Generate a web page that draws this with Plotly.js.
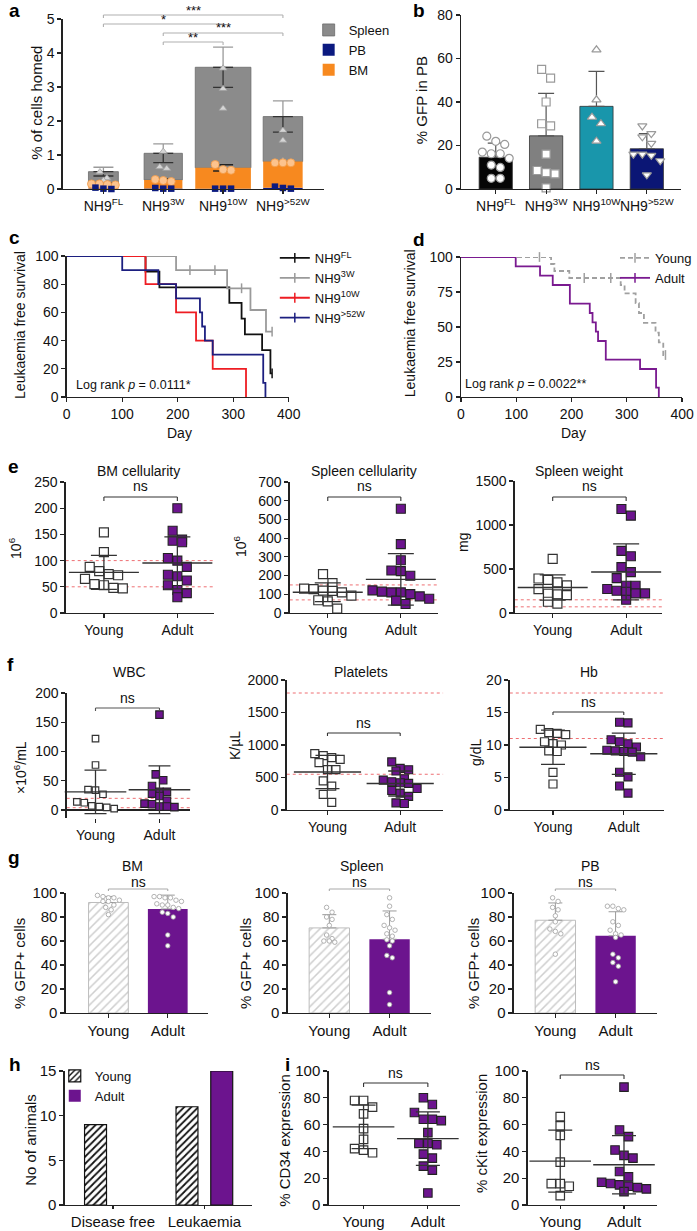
<!DOCTYPE html>
<html><head><meta charset="utf-8">
<script src="https://cdn.plot.ly/plotly-3.0.1.min.js"></script>
<style>html,body{margin:0;padding:0;background:#fff}#chart{width:697px;height:1231px}</style>
</head><body><div id="chart"></div>
<script>
// ================= DATA =================
// panel a : homing (% of cells homed)
const a_groups = ['NH9<sup>FL</sup>','NH9<sup>3W</sup>','NH9<sup>10W</sup>','NH9<sup>&gt;52W</sup>'];
const a_spleen = [[0.50,0.32,0.25],[1.10,0.65,0.60],[3.55,2.95,2.37],[1.72,1.43,0.82]];
const a_bm     = [[0.15,0.12,0.15,0.13],[0.28,0.22,0.25],[0.72,0.55,0.57],[0.77,0.77,0.77]];
const a_pb     = [[0.04,0.00,0.01],[0.03,0.01,0.01],[0.01,0.01,0.01],[0.07,0.01,0.03]];
const a_sig    = [['***',0,3],['*',0,2],['***',1,3],['**',1,2]];
// panel b : % GFP in PB
const b_groups = a_groups;
const b_FL  = [24.3,21.9,20.5,17.0,16.2,16.2,14.1,11.0,9.9,4.9,4.9];
const b_3W  = [55,51,40,30,29,16,8.5,7.5,7,0.5];
const b_10W = [64,41,33,30,22];
const b_52W = [29,25.5,24,21,16,16,15.5,13,6.5];
// panel c : Kaplan-Meier by donor age
const c_FL_days  = [0,142,167,293,315,321,352,367,370];
const c_FL_surv  = [100,88.9,77.8,66.7,55.6,44.4,33.3,16.7,16.7];
const c_FL_cens  = [0,0,0,0,0,0,0,0,1];
const c_3W_days  = [0,197,222,267,289,315,331,359,370];
const c_3W_surv  = [100,90,90,90,77.1,77.1,61.7,46.3,46.3];
const c_3W_cens  = [0,0,1,1,0,1,0,0,1];
const c_10W_days = [0,142,197,233,263,323];
const c_10W_surv = [100,80,60,40,20,0];
const c_10W_cens = [0,0,0,0,0,0];
const c_52W_days = [0,100,165,197,240,244,249,263,354,358];
const c_52W_surv = [100,90,80,70,60,50,40,30,10,0];
const c_52W_cens = [0,0,0,0,0,0,0,0,0,0];
// panel d : Kaplan-Meier young vs adult
const d_Y_days = [0,142,163,169,196,223,271,289,296,316,322,331,352,358,366,370];
const d_Y_surv = [100,100,95,90,85,85,85,80,74,67,60,53,46,39,30,30];
const d_Y_cens = [0,1,0,0,0,1,1,0,0,0,0,0,0,0,0,1];
const d_A_days = [0,99,143,166,197,233,238,244,248,262,324,353,358];
const d_A_surv = [100,93.3,86.7,80,66.7,60,53.3,46.7,40,26.7,20,6.7,0];
const d_A_cens = [0,0,0,0,0,0,0,0,0,0,0,0,0];
// panel e
const e_bm_young = [154,116,88,80,74,72,65,55,53,48,47];
const e_bm_adult = [200,157,140,138,135,105,100,88,73,70,62,53,44,38,30];
const e_bm_ref   = [50,100];
const e_sc_young = [208,160,130,128,120,118,110,93,68,62,23];
const e_sc_adult = [557,368,282,227,224,199,121,114,110,110,101,89,76,66,48];
const e_sc_ref   = [70,150];
const e_sw_young = [615,392,377,347,313,272,219,211,204,128,106];
const e_sw_adult = [1181,1106,706,645,521,464,396,309,309,272,253,242,223,223,151];
const e_sw_ref   = [70,150];
// panel f
const f_wbc_young = [122,77,35,34,27,14,12.5,7,6,4.5,2.3];
const f_wbc_adult = [163,61,51,41,31,31,28,24,16,11,10,6,6,5];
const f_wbc_ref   = [4,20];
const f_plt_young = [866,835,805,779,728,621,621,448,367,239,117];
const f_plt_adult = [740,640,620,600,480,460,435,420,410,330,300,260,210,110,100];
const f_plt_ref   = [550,1800];
const f_hb_young  = [12.4,11.9,11.8,11.6,10.5,10.2,10.0,9.1,9.0,5.8,4.0];
const f_hb_adult  = [13.5,13.4,10.8,10.5,10.2,9.7,9.2,9.1,9.0,8.9,8.2,5.8,5.1,3.7,2.6];
const f_hb_ref    = [11,18];
// panel g : % GFP+ cells
const g_bm_young = [98,97,96,96,94,93,93,90,88,86,82];
const g_bm_adult = [97,97,96,96,94,93,91,90,90,88,87,84,83,80,65,56];
const g_sp_young = [88,84,80,78,73,65,62,60,60,59];
const g_sp_adult = [96,89,82,78,73,71,69,66,64,61,60,56,48,46,17,7];
const g_pb_young = [96,93,88,86,81,76,70,68,66,49];
const g_pb_adult = [89,89,87,86,76,73,69,66,65,63,49,46,42,39,26];
// panel h : number of animals
const h_cats  = ['Disease free','Leukaemia'];
const h_young = [9,11];
const h_adult = [0,15];
// panel i
const i_cd34_young = [78,78,73,68,57,49,42,41,39];
const i_cd34_adult = [80,75,69,64,64,63,54,46,46,45,38,35,29,26,9];
const i_kit_young  = [66,59,52,32,16,16,14,7];
const i_kit_adult  = [88,56,51,41,37,35,25,21,17,16,15,14,13,12,10];
const grpLabels = ['Young','Adult'];

// ================= BUILD =================
const W = 697, H = 1231;
const FONT = 'Liberation Sans, Arial, Helvetica, sans-serif';
const NARROW = 'Liberation Sans Narrow, Arial Narrow, Liberation Sans, Arial, sans-serif';
const PURPLE = '#6c148e';
const AX = '#222';
const data = [];
const layout = {width:W, height:H, margin:{l:0,r:0,t:0,b:0}, paper_bgcolor:'#fff', plot_bgcolor:'rgba(0,0,0,0)',
  barmode:'overlay', hovermode:false, showlegend:true, font:{family:FONT, size:13, color:'#111'}, shapes:[], annotations:[]};

const mean = a => a.reduce((s,v)=>s+v,0)/a.length;
const sd = a => { const m = mean(a); return Math.sqrt(a.reduce((s,v)=>s+(v-m)*(v-m),0)/(a.length-1)); };

function panel(n, l, r, t, b, xr, yr, xo, yo, fnt, fs) {
  const xid = n===1?'x':'x'+n, yid = n===1?'y':'y'+n;
  const base = {showline:true, linecolor:AX, linewidth:1.3, ticks:'outside', ticklen:4, tickwidth:1.2, tickcolor:AX,
    showgrid:false, zeroline:false, fixedrange:true, tickangle:0, tickfont:{size:fs||13, family:fnt||FONT, color:'#111'}};
  layout[n===1?'xaxis':'xaxis'+n] = Object.assign({}, base, {domain:[l/W, r/W], range:xr, anchor:yid}, xo||{});
  layout[n===1?'yaxis':'yaxis'+n] = Object.assign({}, base, {domain:[1-b/H, 1-t/H], range:yr, anchor:xid}, yo||{});
  return {xid, yid, l, r, t, b, xr, yr, pxX:(r-l)/(xr[1]-xr[0]), pxY:(b-t)/(yr[1]-yr[0])};
}
function txt(x, y, text, o) {
  layout.annotations.push(Object.assign({xref:'paper', yref:'paper', x:x/W, y:1-y/H, text, showarrow:false,
    xanchor:'center', yanchor:'middle', font:{size:13, family:FONT, color:'#111'}}, o||{}));
}
function vtxt(x, y, text, size, fam) { txt(x, y, text, {textangle:-90, font:{size:size||13, family:fam||FONT, color:'#111'}}); }
function bracket(p, x0, x1, yPx, color, tick, label, labDy, fs, fam) {
  const yy = 1-yPx/H, yt = 1-(yPx+tick)/H, L = {color, width:1.1};
  layout.shapes.push({type:'line', xref:p.xid, yref:'paper', x0, x1, y0:yy, y1:yy, line:L});
  layout.shapes.push({type:'line', xref:p.xid, yref:'paper', x0, x1:x0, y0:yy, y1:yt, line:L});
  layout.shapes.push({type:'line', xref:p.xid, yref:'paper', x0:x1, x1, y0:yy, y1:yt, line:L});
  layout.annotations.push({xref:p.xid, yref:'paper', x:(x0+x1)/2, y:1-(yPx-labDy)/H, text:label, showarrow:false,
    xanchor:'center', yanchor:'middle', font:{size:fs||13, family:fam||FONT, color:'#111'}});
}
function refLines(p, vals) {
  vals.forEach(v => layout.shapes.push({type:'line', xref:p.xid+' domain', yref:p.yid, x0:0, x1:1, y0:v, y1:v,
    line:{color:'#ee6f73', width:1, dash:'dot'}, layer:'below'}));
}
// beeswarm-like arrangement: points closer than one marker in height share a centred row
function swarm(vals, center, p, d) {
  const idx = vals.map((v,i)=>i).sort((a,b)=>vals[b]-vals[a]);
  const xs = new Array(vals.length);
  let row = [], top = null;
  const flush = () => { const k = row.length; row.forEach((i,j)=>{ xs[i] = center + (j-(k-1)/2)*d/p.pxX; }); row = []; };
  idx.forEach(i => {
    if (row.length && (vals[top]-vals[i])*p.pxY >= d) flush();
    if (!row.length) top = i;
    row.push(i);
  });
  flush();
  return xs;
}
function pts(p, xs, ys, marker) {
  data.push({type:'scatter', mode:'markers', x:xs, y:ys, xaxis:p.xid, yaxis:p.yid, marker, showlegend:false, hoverinfo:'skip', cliponaxis:false});
}
const catAxis = (labels) => ({tickvals:labels.map((_,i)=>i), ticktext:labels});

// ---------- panel a ----------
const A = panel(1, 63, 325, 19, 189, [-0.68,3.68], [0,5], catAxis(a_groups), {tickvals:[0,1,2,3,4,5]}, FONT, 14);
const aS = a_spleen.map(mean), aB = a_bm.map(mean), aP = a_pb.map(mean);
const aX = a_groups.map((_,i)=>i), aW = [0.5,0.64,0.93,0.66];
data.push({type:'bar', name:'Spleen', x:aX, y:aS, base:aS.map((_,i)=>aP[i]+aB[i]), width:aW, xaxis:A.xid, yaxis:A.yid,
  marker:{color:'#8b8b8b', line:{color:'#6b6b6b', width:0.8}}, legend:'legend', legendgroup:'s',
  error_y:{type:'data', symmetric:false, array:a_spleen.map(sd), arrayminus:aS.map(()=>0), color:'#9a9a9a', thickness:1.3, width:10}});
data.push({type:'bar', name:'PB', x:aX, y:aP, width:aW, xaxis:A.xid, yaxis:A.yid, marker:{color:'#0b1a80'}, legend:'legend', legendgroup:'p'});
data.push({type:'bar', name:'BM', x:aX, y:aB, base:aP, width:aW, xaxis:A.xid, yaxis:A.yid, marker:{color:'#f7891f'}, legend:'legend', legendgroup:'b',
  error_y:{type:'data', array:a_bm.map(sd), color:'#222', thickness:1.5, width:10}});
data.push({type:'scatter', mode:'markers', x:aX, y:aS.map((v,i)=>v+aP[i]+aB[i]), xaxis:A.xid, yaxis:A.yid, showlegend:false, hoverinfo:'skip',
  marker:{size:1, color:'rgba(0,0,0,0)'}, error_y:{type:'data', symmetric:false, array:aS.map(()=>0), arrayminus:a_spleen.map(sd), color:'#333', thickness:1.3, width:10}});
a_spleen.forEach((g,i)=>pts(A, swarm(g,i,A,7), g, {symbol:'triangle-up', size:7, color:'#d6d6d6', line:{color:'#a0a0a0', width:0.8}}));
a_bm.forEach((g,i)=>pts(A, swarm(g,i,A,8), g, {symbol:'circle', size:8, color:'#fcc38d', line:{color:'#f29a45', width:0.8}}));
a_pb.forEach((g,i)=>pts(A, swarm(g,i,A,8), g, {symbol:'square', size:6.5, color:'#0b1a80', line:{width:0}}));
const aBrY = [15, 24, 33, 42];
a_sig.forEach((s,k)=>bracket(A, s[1], s[2], aBrY[k], '#b0b0b0', 3, s[0], 5, 13));
vtxt(37, 103, '% of cells homed', 15);
layout.legend = {x:310/W, y:1-15/H, xanchor:'left', yanchor:'top', bgcolor:'rgba(0,0,0,0)', font:{size:13, family:FONT}, tracegroupgap:6, traceorder:'normal'};

// ---------- panel b ----------
const B = panel(2, 463, 684, 15, 189, [-0.69,3.68], [0,80], catAxis(b_groups), {tickvals:[0,20,40,60,80]}, FONT, 13);
const bSets = [b_FL, b_3W, b_10W, b_52W];
const bCol = ['#050505','#808080','#1996ab','#0b1675'], bSym = ['circle','square','triangle-up','triangle-down'];
data.push({type:'bar', x:bSets.map((_,i)=>i), y:bSets.map(mean), width:0.66, xaxis:B.xid, yaxis:B.yid, showlegend:false,
  marker:{color:bCol, line:{color:'#333', width:0.8}},
  error_y:{type:'data', symmetric:false, array:bSets.map(sd), arrayminus:bSets.map(()=>0), color:'#555', thickness:1.2, width:8}});
bSets.forEach((g,i)=>pts(B, swarm(g,i,B,9), g, {symbol:bSym[i], size:8, color:'#fff', line:{color:'#9a9a9a', width:1.2}}));
layout.yaxis2.tickfont.size = 14;
vtxt(423, 100, '% GFP in PB', 15);

// ---------- panel c / d ----------
function km(p, days, surv, cens, color, dash, name, leg) {
  data.push({type:'scatter', mode:'lines', x:days, y:surv, xaxis:p.xid, yaxis:p.yid, showlegend:false, hoverinfo:'skip', cliponaxis:false,
    line:{shape:'hv', color, width:1.8, dash}});
  const cx = days.filter((_,i)=>cens[i]), cy = surv.filter((_,i)=>cens[i]);
  if (cx.length) data.push({type:'scatter', mode:'markers', x:cx, y:cy, xaxis:p.xid, yaxis:p.yid, showlegend:false, hoverinfo:'skip', cliponaxis:false,
    marker:{symbol:'line-ns', size:7, line:{color, width:1.5}}});
  data.push({type:'scatter', mode:'lines+markers', x:[null], y:[null], xaxis:p.xid, yaxis:p.yid, name, legend:leg, legendgroup:leg+name,
    line:{color, width:1.8, dash}, marker:{symbol:'line-ns', size:7, line:{color, width:1.5}}});
}
const C = panel(3, 67, 290, 256, 397, [0,400], [0,100], {tickvals:[0,100,200,300,400]}, {tickvals:[0,20,40,60,80,100]}, FONT, 14);
km(C, c_FL_days, c_FL_surv, c_FL_cens, '#111', 'solid', 'NH9<sup>FL</sup>', 'legend2');
km(C, c_3W_days, c_3W_surv, c_3W_cens, '#9a9a9a', 'solid', 'NH9<sup>3W</sup>', 'legend2');
km(C, c_10W_days, c_10W_surv, c_10W_cens, '#ee1d23', 'solid', 'NH9<sup>10W</sup>', 'legend2');
km(C, c_52W_days, c_52W_surv, c_52W_cens, '#1c1f80', 'solid', 'NH9<sup>&gt;52W</sup>', 'legend2');
vtxt(20, 325, 'Leukaemia free survival', 14);
txt(180, 433, 'Day', {font:{size:14, family:FONT, color:'#111'}});
txt(134, 385, 'Log rank <i>p</i> = 0.0111*', {font:{size:12.5, family:FONT, color:'#111'}});
layout.legend2 = {x:276/W, y:1-243/H, xanchor:'left', yanchor:'top', bgcolor:'rgba(0,0,0,0)', font:{size:13, family:FONT}, tracegroupgap:0, traceorder:'normal'};

const D = panel(4, 463, 685, 257, 397, [0,400], [0,100], {tickvals:[0,100,200,300,400]}, {tickvals:[0,25,50,75,100]}, FONT, 14);
km(D, d_Y_days, d_Y_surv, d_Y_cens, '#a0a0a0', '5px,3px', 'Young', 'legend3');
km(D, d_A_days, d_A_surv, d_A_cens, '#7a1a90', 'solid', 'Adult', 'legend3');
vtxt(412, 323, 'Leukaemia free survival', 14);
txt(576, 433, 'Day', {font:{size:14, family:FONT, color:'#111'}});
txt(528, 384, 'Log rank <i>p</i> = 0.0022**', {font:{size:12.5, family:FONT, color:'#111'}});
layout.legend3 = {x:618/W, y:1-243/H, xanchor:'left', yanchor:'top', bgcolor:'rgba(0,0,0,0)', font:{size:13, family:FONT}, tracegroupgap:0, traceorder:'normal'};

// ---------- scatter dot panels (e, f, i) ----------
function dotPanel(p, young, adult, o) {
  pts(p, swarm(young,0,p,o.d), young, {symbol:'square', size:o.sy||o.size, color:'#fff', line:{color:'#333', width:1.2}});
  pts(p, swarm(adult,1,p,o.d), adult, {symbol:'square', size:o.size, color:PURPLE, line:{color:'#222', width:1.1}});
  data.push({type:'scatter', mode:'markers', x:[0,1], y:[mean(young), mean(adult)], xaxis:p.xid, yaxis:p.yid, showlegend:false, hoverinfo:'skip', cliponaxis:false,
    marker:{symbol:'line-ew', size:o.ml, color:'#333', line:{color:'#333', width:1.4}},
    error_y:{type:'data', array:[sd(young), sd(adult)], color:'#333', thickness:1.3, width:o.cw}});
}
const yn = catAxis(grpLabels);
const E1 = panel(5, 66, 215, 482, 613, [-0.52,1.5], [0,250], yn, {tickvals:[0,50,100,150,200,250]}, FONT, 14);
const E2 = panel(6, 291, 440, 482, 613, [-0.52,1.51], [0,700], yn, {tickvals:[0,100,200,300,400,500,600,700]}, FONT, 14);
const E3 = panel(7, 517, 665, 481, 613, [-0.516,1.49], [0,1500], yn, {tickvals:[0,500,1000,1500]}, FONT, 14);
refLines(E1, e_bm_ref); refLines(E2, e_sc_ref); refLines(E3, e_sw_ref);
dotPanel(E1, e_bm_young, e_bm_adult, {size:9, d:9.5, ml:50, cw:13});
dotPanel(E2, e_sc_young, e_sc_adult, {size:9, d:9.5, ml:50, cw:13});
dotPanel(E3, e_sw_young, e_sw_adult, {size:9, d:9.5, ml:50, cw:13});
txt(139, 471, 'BM cellularity', {font:{size:14, family:FONT, color:'#111'}});
txt(366, 471, 'Spleen cellularity', {font:{size:14, family:FONT, color:'#111'}});
txt(582, 471, 'Spleen weight', {font:{size:14, family:FONT, color:'#111'}});
[E1,E2,E3].forEach(p=>bracket(p, 0, 1, 497, '#333', 4, 'ns', 11, 14));
vtxt(15, 548, '10<sup>6</sup>', 14); vtxt(241, 546, '10<sup>6</sup>', 14); vtxt(465, 542, 'mg', 14);

const F1 = panel(8, 67, 191, 693, 818, [-0.45,1.48], [-13.6,200], Object.assign({showline:false}, yn), {tickvals:[0,50,100,150,200], zeroline:true, zerolinecolor:AX, zerolinewidth:1.3}, NARROW, 14);
const F2 = panel(9, 288, 445, 680, 810, [-0.56,1.59], [0,2000], yn, {tickvals:[0,500,1000,1500,2000]}, NARROW, 14);
const F3 = panel(10, 512, 667, 680, 810, [-0.61,1.57], [0,20], yn, {tickvals:[0,5,10,15,20]}, NARROW, 14);
refLines(F1, f_wbc_ref); refLines(F2, f_plt_ref); refLines(F3, f_hb_ref);
dotPanel(F1, f_wbc_young, f_wbc_adult, {size:7.5, sy:6.5, d:7.5, ml:44, cw:11});
dotPanel(F2, f_plt_young, f_plt_adult, {size:8, d:8.5, ml:48, cw:12});
dotPanel(F3, f_hb_young, f_hb_adult, {size:8, d:8.5, ml:48, cw:12});
txt(130, 672, 'WBC', {font:{size:14, family:FONT, color:'#111'}});
txt(363, 672, 'Platelets', {font:{size:14, family:FONT, color:'#111'}});
txt(592, 672, 'Hb', {font:{size:14, family:FONT, color:'#111'}});
bracket(F1, 0, 1, 708, '#555', 3, 'ns', 10, 14, NARROW);
bracket(F2, 0, 1, 733, '#333', 3, 'ns', 10, 14, NARROW);
bracket(F3, 0, 1, 712, '#333', 3, 'ns', 10, 14, NARROW);
vtxt(20, 767, '×10<sup>6</sup>/mL', 14, NARROW); vtxt(236, 745, 'K/µL', 14, NARROW); vtxt(478, 752, 'g/dL', 14, NARROW);

// ---------- panel g ----------
function gfpPanel(p, young, adult) {
  data.push({type:'bar', x:[0], y:[mean(young)], width:0.67, xaxis:p.xid, yaxis:p.yid, showlegend:false,
    marker:{color:'#fff', line:{color:'#bdbdbd', width:1}, pattern:{shape:'/', fgcolor:'#cfcfcf', bgcolor:'#fff', size:6, solidity:0.25}},
    error_y:{type:'data', symmetric:false, array:[sd(young)], arrayminus:[0], color:'#9a9a9a', thickness:1, width:7}});
  data.push({type:'bar', x:[1], y:[mean(adult)], width:0.67, xaxis:p.xid, yaxis:p.yid, showlegend:false,
    marker:{color:PURPLE, line:{width:0}},
    error_y:{type:'data', symmetric:false, array:[sd(adult)], arrayminus:[0], color:'#9a9a9a', thickness:1, width:7}});
  pts(p, swarm(young,0,p,5.5), young, {symbol:'circle', size:4.5, color:'#fff', line:{color:'#a0a0a0', width:0.8}});
  pts(p, swarm(adult,1,p,5.5), adult, {symbol:'circle', size:4.5, color:'#fff', line:{color:'#a0a0a0', width:0.8}});
}
const gy = {tickvals:[0,20,40,60,80,100]};
const G1 = panel(11, 66, 209, 893, 1013, [-0.72,1.68], [0,100], yn, gy, NARROW, 15);
const G2 = panel(12, 289, 433, 893, 1013, [-0.69,1.69], [0,100], yn, gy, NARROW, 15);
const G3 = panel(13, 516, 660, 893, 1013, [-0.69,1.69], [0,100], yn, gy, NARROW, 15);
gfpPanel(G1, g_bm_young, g_bm_adult); gfpPanel(G2, g_sp_young, g_sp_adult); gfpPanel(G3, g_pb_young, g_pb_adult);
txt(133, 866, 'BM', {font:{size:14, family:NARROW, color:'#111'}});
txt(364, 866, 'Spleen', {font:{size:14, family:NARROW, color:'#111'}});
txt(593, 866, 'PB', {font:{size:14, family:NARROW, color:'#111'}});
[G1,G2,G3].forEach(p=>bracket(p, 0, 1, 889, '#aaa', 2, 'ns', 7, 14, NARROW));
vtxt(20, 963, '% GFP+ cells', 15, NARROW); vtxt(247, 963, '% GFP+ cells', 15, NARROW); vtxt(476, 963, '% GFP+ cells', 15, NARROW);

// ---------- panel h ----------
const Hp = panel(14, 65, 253, 1071, 1205, [-0.527,1.52], [0,15], Object.assign({ticklen:3}, catAxis(h_cats)), {tickvals:[0,5,10,15]}, FONT, 14);
data.push({type:'bar', name:'Young', x:h_cats.map((_,i)=>i-0.19), y:h_young, width:0.24, xaxis:Hp.xid, yaxis:Hp.yid, legend:'legend4', legendgroup:'hy',
  marker:{color:'#fff', line:{color:'#111', width:h_young.map(v=>v>0?1.2:0)}, pattern:{shape:'/', fgcolor:'#111', bgcolor:'#fff', size:5, solidity:0.35}}});
data.push({type:'bar', name:'Adult', x:h_cats.map((_,i)=>i+0.19), y:h_adult, width:0.24, xaxis:Hp.xid, yaxis:Hp.yid, legend:'legend4', legendgroup:'ha',
  marker:{color:PURPLE, line:{color:'#111', width:h_adult.map(v=>v>0?1.2:0)}}});
vtxt(30, 1140, 'No of animals', 15);
layout.legend4 = {x:55/W, y:1-1061/H, xanchor:'left', yanchor:'top', bgcolor:'rgba(0,0,0,0)', font:{size:13, family:FONT}, tracegroupgap:0, traceorder:'normal'};

// ---------- panel i ----------
const I1 = panel(15, 330, 462, 1071, 1205, [-0.544,1.5], [0,100], {tickvals:[0,1], ticktext:grpLabels, ticklen:3}, {tickvals:[0,20,40,60,80,100]}, FONT, 14);
const I2 = panel(16, 530, 660, 1071, 1205, [-0.51,1.52], [0,100], {tickvals:[0,1], ticktext:grpLabels, ticklen:3}, {tickvals:[0,20,40,60,80,100]}, FONT, 14);
layout.yaxis15.tickfont.size = 15; layout.yaxis16.tickfont.size = 15; layout.yaxis14.tickfont.size = 15;
dotPanel(I1, i_cd34_young, i_cd34_adult, {size:8.5, d:9, ml:44, cw:12});
dotPanel(I2, i_kit_young, i_kit_adult, {size:8.5, d:9, ml:44, cw:12});
bracket(I1, 0, 1, 1083, '#333', 4, 'ns', 10, 14);
bracket(I2, 0, 1, 1075, '#333', 4, 'ns', 10, 14);
vtxt(285, 1140, '% CD34 expression', 15); vtxt(483, 1133, '% cKit expression', 15);

// ---------- panel letters ----------
[['a',7,10],['b',413,10],['c',7,238],['d',413,240],['e',6,466],['f',5,665],['g',6,857],['h',7,1064],['i',284,1064]]
  .forEach(l=>txt(l[1], l[2], '<b>'+l[0]+'</b>', {xanchor:'left', font:{size:19, family:FONT, color:'#000'}}));

Plotly.newPlot('chart', data, layout, {staticPlot:true, displayModeBar:false});
</script></body></html>
